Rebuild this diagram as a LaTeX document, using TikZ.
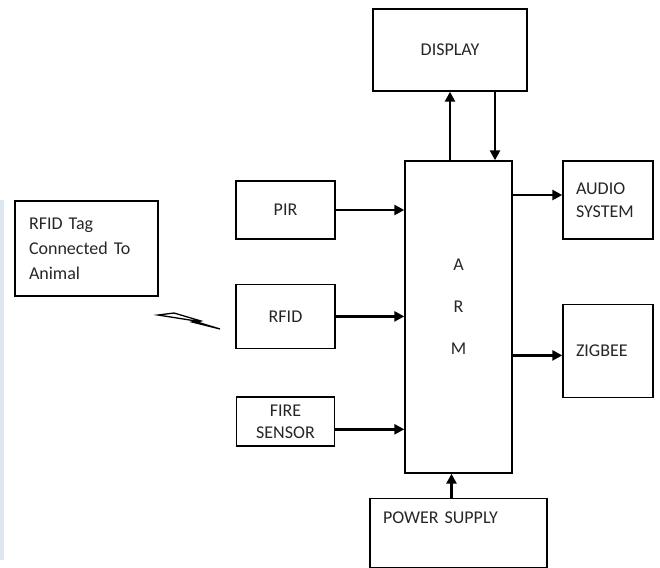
\documentclass[tikz,border=0pt]{standalone}
\usepackage{fontspec}
\setmainfont{Carlito}
\usetikzlibrary{positioning,arrows.meta}
\definecolor{scanblue}{HTML}{DDE5EE}

\begin{document}
\begin{tikzpicture}[
  x=1pt, y=-1pt,
  every node/.style={font=\fontsize{18}{25}\selectfont, text=black!85},
  blk/.style={rectangle, draw=black, line width=1.4pt, align=center, inner sep=0pt},
  lblk/.style={blk, align=left, inner xsep=13pt, text width=#1},
  arr/.style={-{Triangle[length=10pt,width=10pt]}, line width=2.8pt}
]
\useasboundingbox (0,0) rectangle (660,567);
\fill[scanblue] (0,200) rectangle (4,560);

\node[blk, minimum width=107pt, minimum height=312pt, text depth=20pt] (arm) at (458.5,317) {A\\[17pt]R\\[17pt]M};
\node[blk, minimum width=154pt, minimum height=82pt] (display) at (450,50) {DISPLAY};
\node[lblk=64pt, minimum width=90pt, minimum height=78pt] (audio) at (608,200) {AUDIO\\[-2pt]SYSTEM};
\node[lblk=64pt, minimum width=90pt, minimum height=93pt, below=64pt of audio] (zigbee) {ZIGBEE};
\node[blk, minimum width=99pt, minimum height=58pt] (pir) at (285.5,210) {PIR};
\node[blk, minimum width=99pt, minimum height=64pt, below=44pt of pir] (rfid) {RFID};
\node[blk, minimum width=98pt, minimum height=49pt, below=47pt of rfid] (fire) {FIRE\\[-3pt]SENSOR};
\node[lblk=151pt, minimum width=177pt, inner ysep=0pt, text height=25pt, text depth=44pt,
      below=24pt of arm] (power) {POWER SUPPLY};
\node[lblk=115pt, minimum width=143pt, minimum height=95pt] (tag) at (86.5,248.5) {RFID Tag\\Connected To\\Animal};

% wireless link
\draw[line width=1.3pt, line join=miter] (158,315) -- (174,313) -- (201,321) -- (197,322) -- (220,329)
  -- (192,322) -- (196,321) -- cycle;

\draw[arr] (pir.east) -- (pir.east -| arm.west);
\draw[arr] (rfid.east) -- (rfid.east -| arm.west);
\draw[arr] ([yshift=-8pt]fire.east) -- ([yshift=-8pt]fire.east -| arm.west);
\draw[arr] ([yshift=5pt]audio.west -| arm.east) -- ([yshift=5pt]audio.west);
\draw[arr] ([yshift=-4.5pt]zigbee.west -| arm.east) -- ([yshift=-4.5pt]zigbee.west);
\draw[arr] (arm.north -| display.south) -- (display.south);
\draw[arr] ([xshift=45pt]display.south) -- ([xshift=45pt]display.south |- arm.north);
\draw[arr] ([xshift=-7pt]power.north) -- ([xshift=-7pt]power.north |- arm.south);

\end{tikzpicture}
\end{document}
